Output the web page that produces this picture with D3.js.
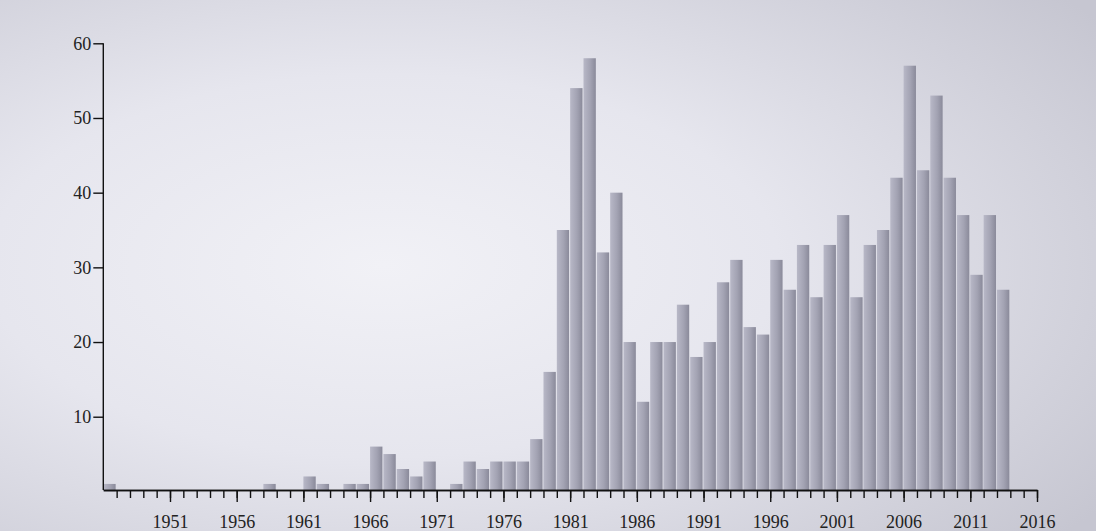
<!DOCTYPE html>
<html>
<head>
<meta charset="utf-8">
<script src="https://cdn.jsdelivr.net/npm/d3@7"></script>
<style>
  body { margin: 0; overflow: hidden; }
  svg { display: block; }
</style>
</head>
<body>
<div id="container"></div>
<script>
// Constants and globals
const width = 1096,
  height = 531,
  margin = { top: 43.3, bottom: 40, left: 103.3, right: 59 }

// data: count per year (years with no bar are left out)
const years = [1946, 1958, 1961, 1962, 1964, 1965, 1966, 1967, 1968, 1969, 1970,
  1972, 1973, 1974, 1975, 1976, 1977, 1978, 1979, 1980, 1981, 1982, 1983, 1984,
  1985, 1986, 1987, 1988, 1989, 1990, 1991, 1992, 1993, 1994, 1995, 1996, 1997,
  1998, 1999, 2000, 2001, 2002, 2003, 2004, 2005, 2006, 2007, 2008, 2009, 2010,
  2011, 2012, 2013]
const counts = [1, 1, 2, 1, 1, 1, 6, 5, 3, 2, 4,
  1, 4, 3, 4, 4, 4, 7, 16, 35, 54, 58, 32, 40,
  20, 12, 20, 20, 25, 18, 20, 28, 31, 22, 21, 31, 27,
  33, 26, 33, 37, 26, 33, 35, 42, 57, 43, 53, 42, 37,
  29, 37, 27]
const yTicks = [10, 20, 30, 40, 50, 60]
const xMajorTicks = d3.range(1951, 2017, 5)
const xMinorTicks = d3.range(1947, 2017)

const data = years.map((y, i) => ({ year: y, count: counts[i] }))

// scales
const xScale = d3.scaleLinear()
  .domain([1946, 2016])
  .range([margin.left, width - margin.right])

const yScale = d3.scaleLinear()
  .domain([0, 60])
  .range([491.4, margin.top])

const axisY = 490

// svg
const svg = d3.select("#container")
  .append("svg")
  .attr("width", width)
  .attr("height", height)

const defs = svg.append("defs")

const bg = defs.append("radialGradient")
  .attr("id", "bg")
  .attr("cx", "35%").attr("cy", "50%").attr("r", "80%")
bg.append("stop").attr("offset", "0%").attr("stop-color", "#f1f1f6")
bg.append("stop").attr("offset", "45%").attr("stop-color", "#e6e6ee")
bg.append("stop").attr("offset", "100%").attr("stop-color", "#c6c6d1")

const barGrad = defs.append("linearGradient")
  .attr("id", "bar")
  .attr("x1", "0%").attr("x2", "100%").attr("y1", "0%").attr("y2", "0%")
barGrad.append("stop").attr("offset", "0%").attr("stop-color", "#b8b8c7")
barGrad.append("stop").attr("offset", "55%").attr("stop-color", "#a3a3b3")
barGrad.append("stop").attr("offset", "100%").attr("stop-color", "#8a8a9a")

svg.append("rect")
  .attr("width", width)
  .attr("height", height)
  .attr("fill", "url(#bg)")

// bars
svg.selectAll("rect.bar")
  .data(data, d => d.year)
  .join("rect")
  .attr("class", "bar")
  .attr("x", d => xScale(d.year))
  .attr("y", d => yScale(d.count))
  .attr("width", d => xScale(d.year + 1) - xScale(d.year) - 1)
  .attr("height", d => yScale(0) - yScale(d.count))
  .attr("fill", "url(#bar)")

// axes
const font = "'Liberation Serif', serif"

const yAxis = d3.axisLeft(yScale)
  .tickValues(yTicks)
  .tickSize(10)
  .tickSizeOuter(0)
  .tickPadding(2)
const gy = svg.append("g")
  .attr("transform", `translate(${margin.left},0)`)
  .call(yAxis)
gy.select(".domain").attr("d", `M0,${yScale(60)}V${axisY}`)

const minorAxis = d3.axisBottom(xScale)
  .tickValues(xMinorTicks)
  .tickSize(8)
  .tickSizeOuter(0)
  .tickFormat("")
svg.append("g")
  .attr("transform", `translate(0,${axisY})`)
  .call(minorAxis)

const majorAxis = d3.axisBottom(xScale)
  .tickValues(xMajorTicks)
  .tickSize(12)
  .tickSizeOuter(0)
  .tickPadding(13)
  .tickFormat(d3.format("d"))
svg.append("g")
  .attr("transform", `translate(0,${axisY})`)
  .call(majorAxis)

svg.selectAll(".domain, .tick line")
  .attr("stroke", "#111")
  .attr("stroke-width", 1.4)

svg.selectAll(".tick text")
  .attr("font-family", font)
  .attr("font-size", 18)
  .attr("fill", "#222")
</script>
</body>
</html>
